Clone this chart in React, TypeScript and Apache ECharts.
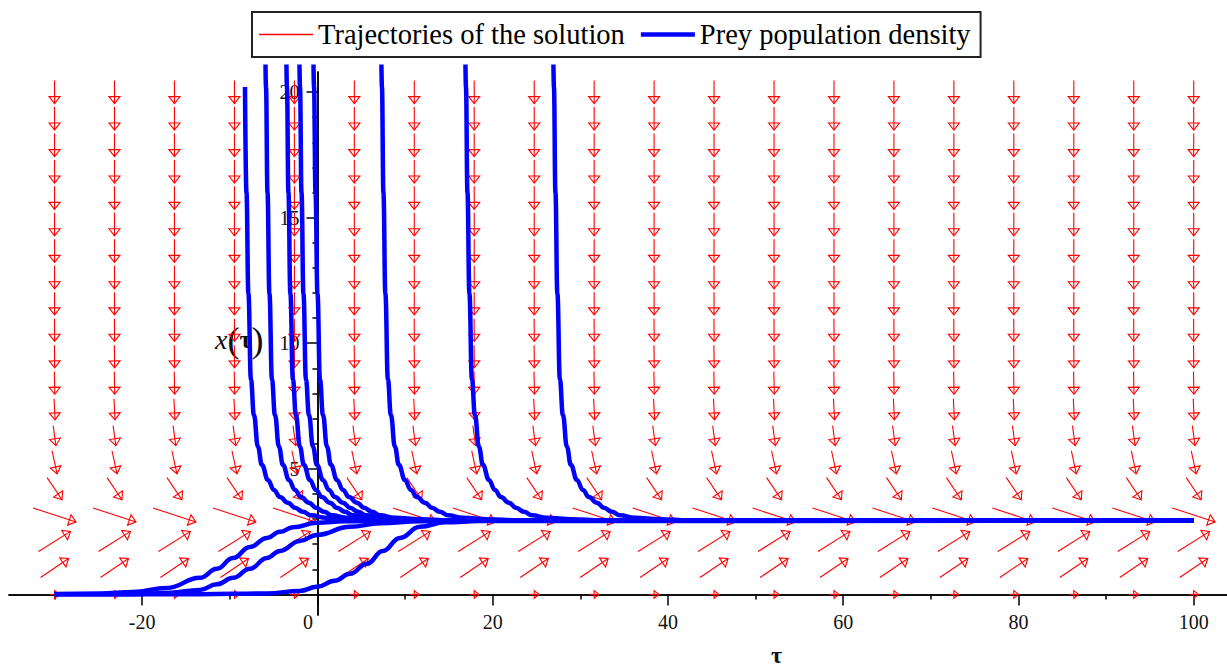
import React, { useEffect, useRef } from 'react';
import * as echarts from 'echarts';

// Axis extents
const tauMin = -35.2;
const tauMax = 103.8;
const xMin = -0.82;
const xMax = 20.8;

// Tick positions / labels
const majorTauTicks = [-20, 0, 20, 40, 60, 80, 100];
const minorTauTicks = [-30, -10, 10, 30, 50, 70, 90];
const majorXTicks = [5, 10, 15, 20];
const minorXTicks = [1, 2, 3, 4, 6, 7, 8, 9, 11, 12, 13, 14, 16, 17, 18, 19];

// Direction field grid (arrow centres) and per-row arrow vectors
const arrowTau = [-30, -23.16, -16.32, -9.47, -2.63, 4.21, 11.05, 17.89, 24.74, 31.58, 38.42, 45.26, 52.11, 58.95, 65.79, 72.63, 79.47, 86.32, 93.16, 100];
const arrowX = [0, 1.05, 2.11, 3.16, 4.21, 5.26, 6.32, 7.37, 8.42, 9.47, 10.53, 11.58, 12.63, 13.68, 14.74, 15.79, 16.84, 17.89, 18.95, 20];
const arrowDTau = [1.1, 3.2, 3.65, 4.9, 1.7, 0.57, 0.31, 0.12, 0.05, 0.03, 0.02, 0, 0, 0, 0, 0, 0, 0, 0, 0];
const arrowDX = [0, 0.76, 0.8, -0.56, -0.88, -0.92, -0.8, -0.84, -0.9, -0.9, -0.9, -0.9, -0.92, -0.92, -0.92, -0.92, -0.92, -0.92, -0.92, -0.92];

// Decaying solutions (from above): common x-levels, tau for each curve
const decayLevels = [21.1, 20.2, 16, 12, 8.55, 7.15, 5.88, 5.16, 4.56, 4.16, 3.88, 3.65, 3.45, 3.29, 3.15, 3.05, 2.99, 2.95];
const decayA = [null, -8.27, -8.1, -7.88, -7.59, -7.25, -6.79, -6.34, -5.65, -4.97, -4.28, -3.37, -2.57, -1.66, -0.74, 0.97, 3.81, 7.21];
const decayB = [-5.93, -5.87, -5.7, -5.48, -5.19, -4.85, -4.39, -3.94, -3.25, -2.57, -1.88, -0.97, -0.17, 0.74, 1.66, 3.37, 6.21, 9.61];
const decayC = [-3.54, -3.48, -3.31, -3.09, -2.8, -2.46, -2.0, -1.55, -0.86, -0.18, 0.51, 1.42, 2.22, 3.13, 4.05, 5.76, 8.6, 12.0];
const decayD = [-2.05, -1.99, -1.82, -1.6, -1.31, -0.97, -0.51, -0.06, 0.63, 1.31, 2.0, 2.91, 3.71, 4.62, 5.54, 7.25, 10.09, 13.49];
const decayE = [-0.45, -0.39, -0.22, 0.0, 0.29, 0.63, 1.09, 1.54, 2.23, 2.91, 3.6, 4.51, 5.31, 6.22, 7.14, 8.85, 11.69, 15.09];
const decayF = [7.3, 7.36, 7.53, 7.75, 8.04, 8.38, 8.84, 9.29, 9.98, 10.66, 11.35, 12.26, 13.06, 13.97, 14.89, 16.6, 19.44, 22.84];
const decayG = [16.89, 16.95, 17.12, 17.34, 17.63, 17.97, 18.43, 18.88, 19.57, 20.25, 20.94, 21.85, 22.65, 23.56, 24.48, 26.19, 29.03, 32.43];
const decayH = [26.93, 26.99, 27.16, 27.38, 27.67, 28.01, 28.47, 28.92, 29.61, 30.29, 30.98, 31.89, 32.69, 33.6, 34.52, 36.23, 39.07, 42.47];
const endTau = 100;
const equilibriumX = 2.94;

// Rising solutions (from below)
const riseTau1 = [-30, -24.81, -21.05, -17.17, -13.41, -11.47, -9.64, -7.7, -5.76, -4.28, -2.8, -0.06, 3.14, 8.27, 100];
const riseX1 = [0.02, 0.04, 0.1, 0.26, 0.66, 1.02, 1.45, 1.89, 2.25, 2.49, 2.67, 2.85, 2.91, 2.93, 2.94];
const riseTau2 = [-30, -21.05, -17.17, -13.41, -11.47, -9.64, -7.7, -5.76, -4.28, -2.0, -0.06, 3.71, 7.13, 11.69, 17.4, 100];
const riseX2 = [0.01, 0.01, 0.06, 0.18, 0.4, 0.66, 1.02, 1.45, 1.73, 2.13, 2.37, 2.69, 2.83, 2.91, 2.93, 2.94];
const riseTau3 = [-30, -13.41, -5.76, -2.0, -0.06, 1.97, 3.71, 5.65, 7.47, 9.41, 11.69, 14.55, 18.54, 100];
const riseX3 = [0.01, 0.01, 0.04, 0.14, 0.3, 0.54, 0.82, 1.22, 1.73, 2.25, 2.69, 2.87, 2.92, 2.94];

const RED_NAME = 'Trajectories of the solution';
const BLUE_NAME = 'Prey population density';
const SERIF = "'Liberation Serif', 'Times New Roman', serif";

// Layout
const W = 1227;
const H = 669;
const GRID = { left: 9, right: 0, top: 72, bottom: 54 };

export default function App() {
  const ref = useRef<HTMLDivElement>(null);

  useEffect(() => {
    if (!ref.current) return;
    const chart = echarts.init(ref.current, undefined, { renderer: 'svg' });

    const gridW = W - GRID.left - GRID.right;
    const gridH = H - GRID.top - GRID.bottom;
    // axes cross at the data origin: shift each axis from the grid edge to zero
    const xAxisOffset = -gridH * ((0 - xMin) / (xMax - xMin));
    const yAxisOffset = -gridW * ((0 - tauMin) / (tauMax - tauMin));

    const arrowData: number[][] = [];
    arrowX.forEach((x, r) => {
      arrowTau.forEach((t) => {
        arrowData.push([t, x, arrowDTau[r], arrowDX[r]]);
      });
    });

    const decayCurves = [decayA, decayB, decayC, decayD, decayE, decayF, decayG, decayH].map((taus) => {
      const pts: number[][] = [];
      taus.forEach((t, i) => {
        if (t !== null) pts.push([t as number, decayLevels[i]]);
      });
      pts.push([endTau, equilibriumX]);
      return pts;
    });
    const riseCurves = [
      [riseTau1, riseX1],
      [riseTau2, riseX2],
      [riseTau3, riseX3],
    ].map(([ts, xs]) => ts.map((t, i) => [t, xs[i]]));

    const blueSeries = [...decayCurves, ...riseCurves].map((pts) => ({
      name: BLUE_NAME,
      type: 'line',
      data: pts,
      symbol: 'none',
      showSymbol: false,
      smooth: 0.45,
      smoothMonotone: 'x',
      clip: false,
      z: 5,
      color: '#0000ff',
      lineStyle: { color: '#0000ff', width: 4.5 },
      silent: true,
    }));

    const axisLabelFont = { fontFamily: SERIF, fontSize: 20, color: '#111' };
    const axisLineStyle = { color: '#000', width: 1.5 };

    const option: any = {
      animation: false,
      backgroundColor: '#ffffff',
      grid: { ...GRID, containLabel: false, outerBoundsMode: 'none' },
      legend: {
        left: 252,
        top: 12,
        orient: 'horizontal',
        padding: [8, 10, 8, 7],
        itemGap: 16,
        itemWidth: 54,
        itemHeight: 14,
        borderColor: '#222',
        borderWidth: 2,
        backgroundColor: '#fff',
        selectedMode: false,
        symbolKeepAspect: true,
        textStyle: { fontFamily: SERIF, fontSize: 28.5, color: '#000' },
        data: [
          { name: RED_NAME, icon: 'path://M0,0 L54,0 L54,1.4 L0,1.4 Z', itemStyle: { color: '#ff0000' } },
          { name: BLUE_NAME, icon: 'path://M0,0 L54,0 L54,4.5 L0,4.5 Z', itemStyle: { color: '#0000ff' } },
        ],
      },
      xAxis: [
        {
          type: 'value',
          min: tauMin,
          max: tauMax,
          position: 'bottom',
          offset: xAxisOffset,
          axisLine: { show: true, onZero: false, lineStyle: axisLineStyle },
          axisTick: { show: true, length: 11, customValues: majorTauTicks, lineStyle: axisLineStyle },
          axisLabel: {
            show: true,
            customValues: majorTauTicks,
            margin: 18,
            ...axisLabelFont,
            formatter: (v: number) => (v === 0 ? '{z|0}' : String(v)),
            rich: { z: { ...axisLabelFont, padding: [0, 19, 0, 0] } },
          },
          splitLine: { show: false },
        },
        {
          type: 'value',
          min: tauMin,
          max: tauMax,
          position: 'bottom',
          offset: xAxisOffset,
          axisLine: { show: true, onZero: false, lineStyle: axisLineStyle },
          axisTick: { show: true, length: 5, customValues: minorTauTicks, lineStyle: axisLineStyle },
          axisLabel: { show: false },
          splitLine: { show: false },
        },
      ],
      yAxis: [
        {
          type: 'value',
          min: xMin,
          max: xMax,
          position: 'left',
          offset: yAxisOffset,
          name: '{i|x}{p|(}{b|τ}{p|)}',
          nameLocation: 'middle',
          nameRotate: 0,
          nameGap: 54,
          nameTextStyle: {
            padding: [0, 0, 8, 0],
            rich: {
              i: { fontFamily: SERIF, fontStyle: 'italic', fontSize: 28, color: '#111' },
              p: { fontFamily: SERIF, fontSize: 36, color: '#111' },
              b: { fontFamily: SERIF, fontWeight: 'bold', fontSize: 26, color: '#111' },
            },
          },
          axisLine: { show: true, onZero: false, lineStyle: axisLineStyle },
          axisTick: { show: true, length: 11, customValues: majorXTicks, lineStyle: axisLineStyle },
          axisLabel: { show: true, customValues: majorXTicks, margin: 18, ...axisLabelFont },
          splitLine: { show: false },
        },
        {
          type: 'value',
          min: xMin,
          max: xMax,
          position: 'left',
          offset: yAxisOffset,
          axisLine: { show: true, onZero: false, lineStyle: axisLineStyle },
          axisTick: { show: true, length: 5, customValues: minorXTicks, lineStyle: axisLineStyle },
          axisLabel: { show: false },
          splitLine: { show: false },
        },
      ],
      graphic: [
        {
          type: 'text',
          left: 771,
          top: 643,
          style: { text: 'τ', fontFamily: SERIF, fontSize: 24, fontWeight: 'bold', fill: '#111' },
        },
      ],
      series: [
        {
          name: RED_NAME,
          type: 'custom',
          data: arrowData,
          dimensions: ['tau', 'x', 'dtau', 'dx'],
          encode: { x: 0, y: 1 },
          z: 2,
          silent: true,
          itemStyle: { color: '#ff0000' },
          renderItem: (params: any, api: any) => {
            const t = api.value(0);
            const x = api.value(1);
            const dt = api.value(2);
            const dx = api.value(3);
            const p0 = api.coord([t - dt / 2, x - dx / 2]);
            const p1 = api.coord([t + dt / 2, x + dx / 2]);
            const vx = p1[0] - p0[0];
            const vy = p1[1] - p0[1];
            const len = Math.hypot(vx, vy) || 1;
            const ux = vx / len;
            const uy = vy / len;
            const hl = Math.min(7, len * 0.5);
            const hw = Math.min(5.5, len * 0.4);
            const bx = p1[0] - ux * hl;
            const by = p1[1] - uy * hl;
            const nx = -uy;
            const ny = ux;
            return {
              type: 'group',
              children: [
                {
                  type: 'line',
                  shape: { x1: p0[0], y1: p0[1], x2: p1[0], y2: p1[1] },
                  style: { stroke: '#ff0000', lineWidth: 1.1 },
                },
                {
                  type: 'polygon',
                  shape: {
                    points: [
                      [bx + nx * hw, by + ny * hw],
                      [p1[0], p1[1]],
                      [bx - nx * hw, by - ny * hw],
                    ],
                  },
                  style: { stroke: '#ff0000', fill: 'none', lineWidth: 1.1 },
                },
              ],
            };
          },
        },
        ...blueSeries,
      ],
    };

    chart.setOption(option);
    return () => {
      chart.dispose();
    };
  }, []);

  return (
    <div
      ref={ref}
      style={{ position: 'absolute', left: 0, top: 0, width: W, height: H, background: '#fff' }}
    />
  );
}
